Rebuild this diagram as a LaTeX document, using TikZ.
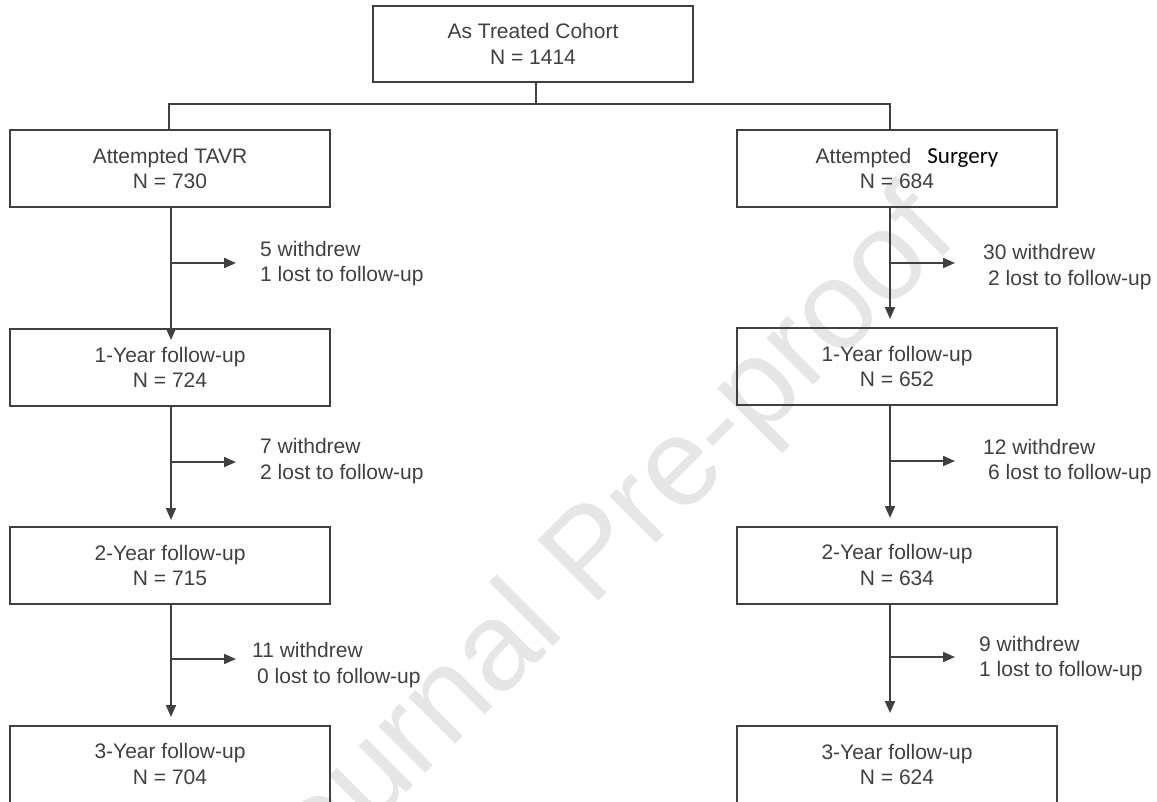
\documentclass[tikz,border=0pt]{standalone}
\usepackage{fontspec}
\setmainfont{Liberation Sans}
\newfontfamily\carlito{Carlito}
\usetikzlibrary{arrows.meta}
\definecolor{ink}{HTML}{404040}
\definecolor{wm}{HTML}{E6E6E6}
\begin{document}
\begin{tikzpicture}[x=1pt,y=-1pt,
  box/.style={draw=ink, line width=2pt, minimum width=320pt, minimum height=77pt, align=center, text=ink, font=\fontsize{21}{25.5}\selectfont, inner sep=0pt},
  note/.style={anchor=west, align=left, text=ink, font=\fontsize{21}{25.5}\selectfont, inner sep=0pt},
  line/.style={draw=ink, line width=2pt},
  arr/.style={line, -{Triangle[length=12pt,width=10pt]}},
]
\useasboundingbox (0,0) rectangle (1157,801);
\clip (0,0) rectangle (1157,801);
% watermark
\node[rotate=45, text=wm, font=\fontsize{125}{125}\selectfont, inner sep=0pt] (wmark) at (596,558) {Journal Pre-proof};

% boxes
\node[box, minimum height=76pt] (top) at (533,44) {As Treated Cohort\\N = 1414};
\node[box] (L0) at (170,168.5) {Attempted TAVR\\N = 730};
\node[box] (R0) at (897,168.5) {\hspace*{20pt}Attempted\hspace{16pt}{\carlito\color{black}\fontsize{23}{25.5}\selectfont Surgery}\\N = 684};
\node[box] (L1) at (170,367.5) {1-Year follow-up\\N = 724};
\node[box] (R1) at (897,366.5) {1-Year follow-up\\N = 652};
\node[box] (L2) at (170,565.5) {2-Year follow-up\\N = 715};
\node[box] (R2) at (897,565) {2-Year follow-up\\N = 634};
\node[box] (L3) at (170,764) {3-Year follow-up\\N = 704};
\node[box] (R3) at (897,764.5) {3-Year follow-up\\N = 624};

% split connector
\coordinate (j) at (536,104);
\coordinate (jl) at (169,104);
\coordinate (jr) at (890,104);
\draw[line] (top.south -| j) -- (j);
\draw[line] (L0.north -| jl) -- (jl) -- (jr) -- (R0.north -| jr);

% left column
\coordinate (lx) at (171,0);
\coordinate (tL1) at (171,340);
\coordinate (tL2) at (171,520);
\coordinate (tL3) at (171,717);
\coordinate (bL1) at (171,263);
\coordinate (bL2) at (171,462);
\coordinate (bL3) at (171,659);
\coordinate (eL1) at (236,263);
\coordinate (eL2) at (236,462);
\coordinate (eL3) at (236,659);
\draw[arr] (L0.south -| lx) -- (tL1);
\draw[arr] (L1.south -| lx) -- (tL2);
\draw[arr] (L2.south -| lx) -- (tL3);
\draw[arr] (bL1) -- (eL1);
\draw[arr] (bL2) -- (eL2);
\draw[arr] (bL3) -- (eL3);

% right column
\coordinate (rx) at (890,0);
\coordinate (tR1) at (890,319);
\coordinate (tR2) at (890,518);
\coordinate (tR3) at (890,713);
\coordinate (bR1) at (890,263);
\coordinate (bR2) at (890,461);
\coordinate (bR3) at (890,657);
\coordinate (eR1) at (955,263);
\coordinate (eR2) at (955,461);
\coordinate (eR3) at (955,657);
\draw[arr] (R0.south -| rx) -- (tR1);
\draw[arr] (R1.south -| rx) -- (tR2);
\draw[arr] (R2.south -| rx) -- (tR3);
\draw[arr] (bR1) -- (eR1);
\draw[arr] (bR2) -- (eR2);
\draw[arr] (bR3) -- (eR3);

% notes
\node[note] (nL1) at (260,263.5) {5 withdrew\\1 lost to follow-up};
\node[note] (nL2) at (260,461) {7 withdrew\\2 lost to follow-up};
\node[note] (nL3) at (252,665) {11 withdrew\\\hspace*{5pt}0 lost to follow-up};
\node[note] (nR1) at (983,267) {30 withdrew\\\hspace*{5pt}2 lost to follow-up};
\node[note] (nR2) at (983,461.5) {12 withdrew\\\hspace*{5pt}6 lost to follow-up};
\node[note] (nR3) at (979,658.5) {9 withdrew\\1 lost to follow-up};
\end{tikzpicture}
\end{document}
